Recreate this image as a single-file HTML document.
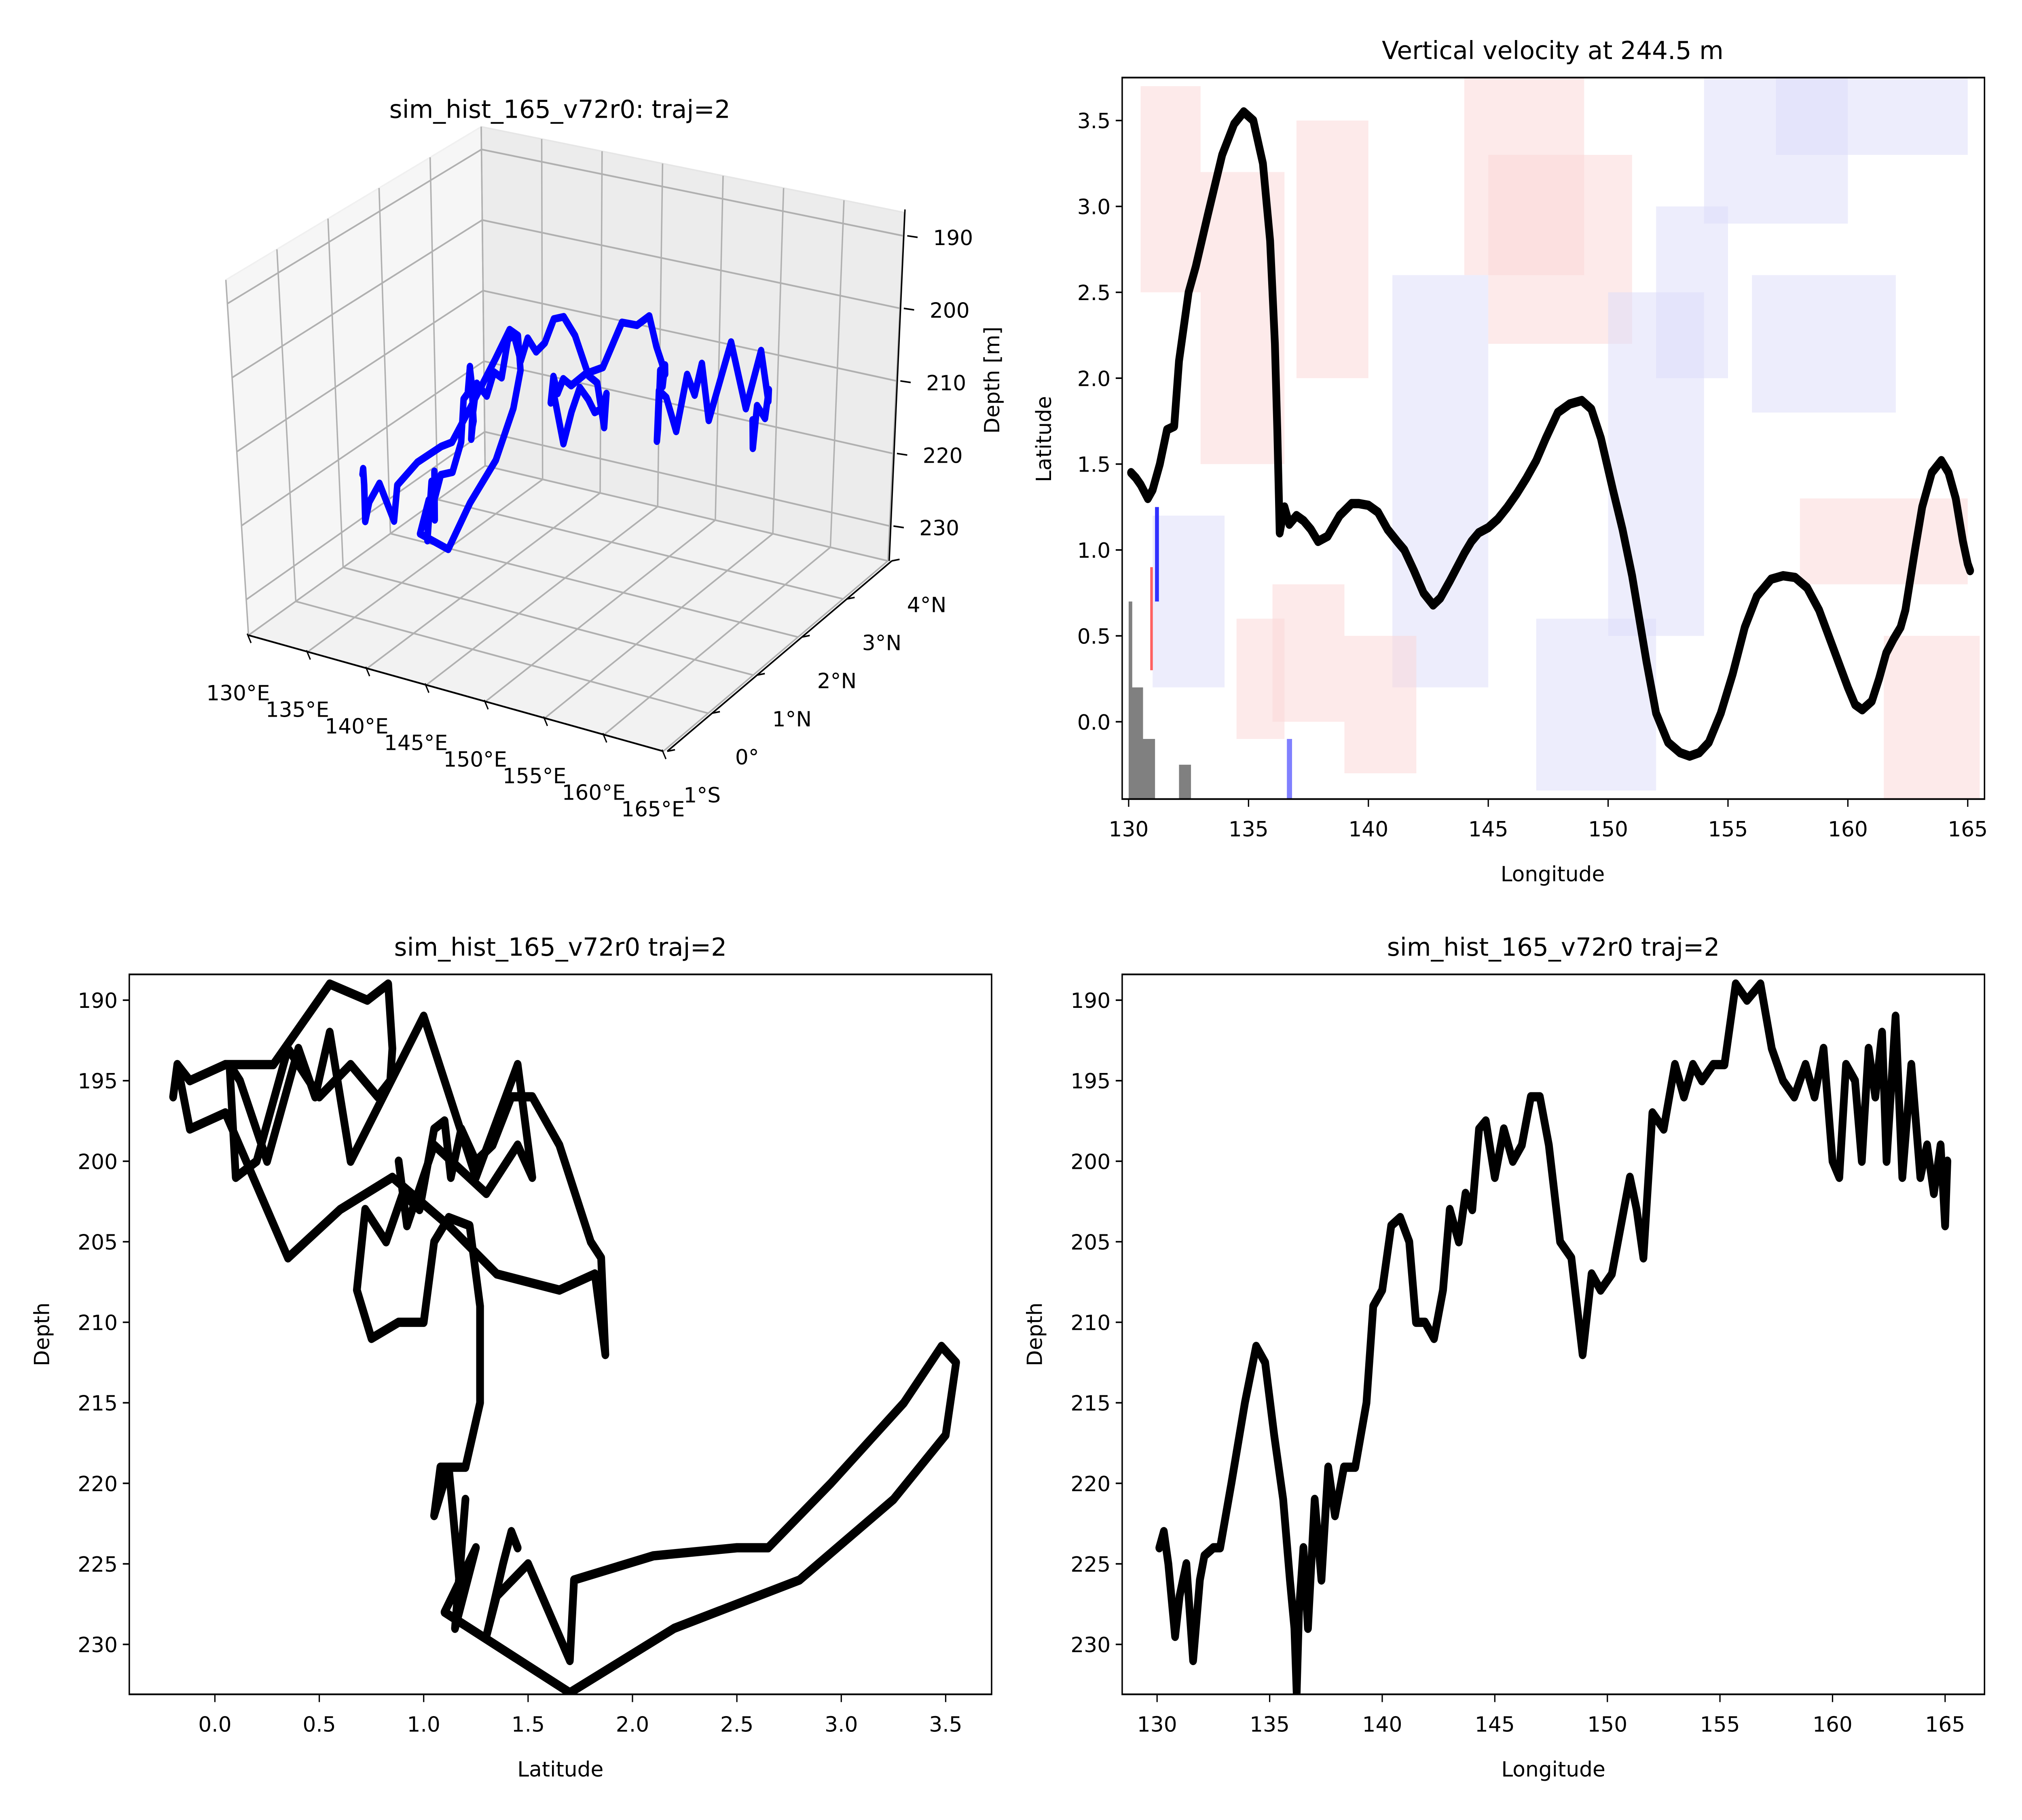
<!DOCTYPE html>
<html><head><meta charset="utf-8">
<style>
html,body{margin:0;padding:0;background:#fff;width:100%;height:100%;overflow:hidden;}
svg{display:block;position:fixed;left:0;top:0;width:100vw;height:100vh;}
text{font-family:"DejaVu Sans","Liberation Sans",sans-serif;fill:#000;}
</style></head>
<body>
<svg id="fig" xmlns="http://www.w3.org/2000/svg" viewBox="0 0 1564 1173" preserveAspectRatio="none">
<rect x="0" y="0" width="1564" height="1173" fill="#fff"/>
<defs>
<clipPath id="clipTR"><rect x="868" y="50" width="667" height="465"/></clipPath>
<clipPath id="clipBL"><rect x="100" y="628" width="667" height="464"/></clipPath>
<clipPath id="clipBR"><rect x="868" y="628" width="667" height="464"/></clipPath>
</defs>
<g id="p3d"></g>
<g id="ptr"></g>
<g id="pbl"></g>
<g id="pbr"></g>
</svg>
<script>
// ---- trajectory data (lon, lat, depth) ----
const trajLon = [130.1,130.3,130.5,130.8,131.0,131.3,131.6,131.9,132.1,132.5,132.8,133.3,133.9,134.4,134.8,135.2,135.6,135.9,136.1,136.2,136.3,136.5,136.7,137.0,137.3,137.6,137.9,138.3,138.8,139.3,139.6,140.0,140.4,140.8,141.2,141.5,141.9,142.3,142.7,143.0,143.4,143.7,144.0,144.3,144.6,145.0,145.4,145.8,146.2,146.6,147.0,147.4,147.9,148.4,148.9,149.3,149.7,150.2,150.6,151.0,151.3,151.6,152.0,152.5,153.0,153.4,153.8,154.2,154.7,155.2,155.7,156.2,156.8,157.3,157.8,158.3,158.8,159.2,159.6,160.0,160.3,160.6,161.0,161.3,161.6,161.9,162.2,162.4,162.8,163.1,163.5,163.9,164.2,164.5,164.8,165.0,165.1];
const trajLat = [1.45,1.42,1.38,1.30,1.35,1.5,1.7,1.72,2.1,2.5,2.65,2.95,3.3,3.48,3.55,3.5,3.25,2.8,2.2,1.7,1.1,1.25,1.15,1.2,1.17,1.12,1.05,1.08,1.2,1.27,1.27,1.26,1.22,1.12,1.05,1.0,0.88,0.75,0.68,0.72,0.82,0.9,0.98,1.05,1.1,1.13,1.18,1.25,1.33,1.42,1.52,1.65,1.8,1.85,1.87,1.82,1.65,1.35,1.12,0.85,0.6,0.35,0.05,-0.12,-0.18,-0.2,-0.18,-0.12,0.05,0.28,0.55,0.73,0.83,0.85,0.84,0.78,0.65,0.5,0.35,0.2,0.1,0.07,0.12,0.25,0.4,0.48,0.55,0.65,1.0,1.25,1.45,1.52,1.45,1.3,1.05,0.92,0.88];
const trajDepth = [224,223,225,229.5,227,225,231,226,224.5,224,224,220,215,211.5,212.5,217,221,226,229,233,228,224,229,221,226,219,222,219,219,215,209,208,204,203.5,205,210,210,211,208,203,205,202,203,198,197.5,201,198,200,199,196,196,199,205,206,212,207,208,207,204,201,203,206,197,198,194,196,194,195,194,194,189,190,189,193,195,196,194,196,193,200,201,194,195,200,193,196,192,200,191,201,194,201,199,202,199,204,200];

const lonTicksTR = [130,135,140,145,150,155,160,165];
const latTicksTR = [0.0,0.5,1.0,1.5,2.0,2.5,3.0,3.5];
const latTicksBL = [0.0,0.5,1.0,1.5,2.0,2.5,3.0,3.5];
const depthTicks = [190,195,200,205,210,215,220,225,230];
const lonTicksBR = [130,135,140,145,150,155,160,165];
const lon3dTicks = [130,135,140,145,150,155,160,165];
const lat3dTicks = [-1,0,1,2,3,4];
const lat3dLabels = ["1°S","0°","1°N","2°N","3°N","4°N"];
const depth3dTicks = [190,200,210,220,230];

// heatmap blobs: lon0, lon1, lat0, lat1, kind (1 red, -1 blue)
const blobLon0 = [130.5,133,137,144,145,147,154,157,161.5,141,150,136,134.5,156,158,131,139,152];
const blobLon1 = [133,136.5,140,149,151,152,160,165,165.5,145,154,139,136.5,162,165,134,142,155];
const blobLat0 = [2.5,1.5,2.0,2.6,2.2,-0.4,2.9,3.3,-0.45,0.2,0.5,0.0,-0.1,1.8,0.8,0.2,-0.3,2.0];
const blobLat1 = [3.7,3.2,3.5,3.75,3.3,0.6,3.75,3.75,0.5,2.6,2.5,0.8,0.6,2.6,1.3,1.2,0.5,3.0];
const blobKind = [1,1,1,1,1,-1,-1,-1,1,-1,-1,1,1,-1,1,-1,1,-1];

const NS="http://www.w3.org/2000/svg";
function mk(parent,tag,attrs){const e=document.createElementNS(NS,tag);for(const k in attrs)e.setAttribute(k,attrs[k]);parent.appendChild(e);return e;}
function txt(parent,x,y,s,size,anchor,extra){const t=mk(parent,'text',Object.assign({x:x,y:y,'font-size':size,'text-anchor':anchor||'middle'},extra||{}));t.textContent=s;return t;}

// ===== Top-right panel =====
const TR={x0:868,x1:1535,y0:50,y1:515,lon0:129.73,lon1:165.7,lat0:-0.45,lat1:3.75};
const trX=v=>TR.x0+(v-TR.lon0)/(TR.lon1-TR.lon0)*(TR.x1-TR.x0);
const trY=v=>TR.y1-(v-TR.lat0)/(TR.lat1-TR.lat0)*(TR.y1-TR.y0);
const ptr=document.getElementById('ptr');
const hm=mk(ptr,'g',{'clip-path':'url(#clipTR)'});


for(let i=0;i<blobLon0.length;i++){
  const r=mk(hm,'rect',{x:trX(blobLon0[i]),y:trY(blobLat1[i]),width:trX(blobLon1[i])-trX(blobLon0[i]),height:trY(blobLat0[i])-trY(blobLat1[i]),fill:blobKind[i]>0?'#fcd6d6':'#dcdcfa',opacity:0.5});
  
  
}
mk(hm,'rect',{x:trX(131.1),y:trY(1.25),width:3,height:trY(0.7)-trY(1.25),fill:'#3030ff'});
mk(hm,'rect',{x:trX(130.9),y:trY(0.9),width:2,height:trY(0.3)-trY(0.9),fill:'#ff6060'});
mk(hm,'rect',{x:trX(136.6),y:trY(-0.1),width:4,height:trY(-0.45)-trY(-0.1),fill:'#8080ff'});
const land=mk(hm,'polygon',{fill:'#808080',points:[[130,-0.45],[130,0.7],[130.15,0.7],[130.15,0.2],[130.6,0.2],[130.6,-0.1],[131.1,-0.1],[131.1,-0.45]].map(p=>trX(p[0])+','+trY(p[1])).join(' ')});


mk(hm,'rect',{x:trX(132.1),y:trY(-0.25),width:trX(132.6)-trX(132.1),height:trY(-0.45)-trY(-0.25),fill:'#808080'});
const trLine=mk(ptr,'polyline',{'clip-path':'url(#clipTR)',fill:'none',stroke:'#000','stroke-width':6,'stroke-linejoin':'round','stroke-linecap':'round',points:trajLon.map((v,i)=>trX(v)+','+trY(trajLat[i])).join(' ')});


mk(ptr,'rect',{x:TR.x0,y:TR.y0,width:TR.x1-TR.x0,height:TR.y1-TR.y0,fill:'none',stroke:'#000','stroke-width':1.1});
lonTicksTR.forEach(v=>{const x=trX(v);mk(ptr,'line',{x1:x,x2:x,y1:TR.y1,y2:TR.y1+5,stroke:'#000','stroke-width':1});const t=txt(ptr,x,TR.y1+24,String(v),13.5);});
latTicksTR.forEach(v=>{const y=trY(v);mk(ptr,'line',{x1:TR.x0-5,x2:TR.x0,y1:y,y2:y,stroke:'#000','stroke-width':1});const t=txt(ptr,TR.x0-9,y+5,v.toFixed(1),13.5,'end');});
let t;
t=txt(ptr,1201,38,'Vertical velocity at 244.5 m',16);
t=txt(ptr,1201,568,'Longitude',13.5);
t=txt(ptr,0,0,'Latitude',13.5,'middle',{transform:'translate(813,283) rotate(-90)'});

// ===== Bottom panels =====
const DY={y0:628,y1:1092,d0:188.4,d1:233.1};
const dY=v=>DY.y0+(v-DY.d0)/(DY.d1-DY.d0)*(DY.y1-DY.y0);
function depthPanel(g,x0,x1,v0,v1,xs,ticks,fmt,clip,xlab){
  const X=v=>x0+(v-v0)/(v1-v0)*(x1-x0);
  const ln=mk(g,'polyline',{'clip-path':'url(#'+clip+')',fill:'none',stroke:'#000','stroke-width':6,'stroke-linejoin':'round','stroke-linecap':'round',points:xs.map((v,i)=>X(v)+','+dY(trajDepth[i])).join(' ')});
  
  
  mk(g,'rect',{x:x0,y:DY.y0,width:x1-x0,height:DY.y1-DY.y0,fill:'none',stroke:'#000','stroke-width':1.1});
  ticks.forEach(v=>{const x=X(v);mk(g,'line',{x1:x,x2:x,y1:DY.y1,y2:DY.y1+5,stroke:'#000','stroke-width':1});const tt=txt(g,x,DY.y1+24,fmt(v),13.5);});
  depthTicks.forEach(v=>{const y=dY(v);mk(g,'line',{x1:x0-5,x2:x0,y1:y,y2:y,stroke:'#000','stroke-width':1});const tt=txt(g,x0-9,y+5,String(v),13.5,'end');});
  let a=txt(g,(x0+x1)/2,616,'sim_hist_165_v72r0 traj=2',16);
  a=txt(g,(x0+x1)/2,1145,xlab,13.5);
  a=txt(g,0,0,'Depth',13.5,'middle',{transform:'translate('+(x0-62)+',860) rotate(-90)'});
}
depthPanel(document.getElementById('pbl'),100,767,-0.41,3.72,trajLat,latTicksBL,v=>v.toFixed(1),'clipBL','Latitude');
depthPanel(document.getElementById('pbr'),868,1535,128.45,166.75,trajLon,lonTicksBR,v=>String(v),'clipBR','Longitude');

// ===== 3D panel =====
const p3=document.getElementById('p3d');
const LB=[192.2,409.4],FR=[513.1,484.2],RB=[686.8,361.5],BB=[375.2,300.2];
const vLB=[-17.5,-229],vFR=[-1.7,-235],vRB=[12.8,-224.5],vBB=[-3,-218.5];
function bil(a,b,c,d,u,v){return [0,1].map(k=>a[k]*(1-u)*(1-v)+b[k]*u*(1-v)+c[k]*u*v+d[k]*(1-u)*v);}
function P(lon,lat,dep){const u=(lon-130)/35,v=(lat+1)/5,w=(234.8-dep)/48;
  const f=bil(LB,FR,RB,BB,u,v),q=bil(vLB,vFR,vRB,vBB,u,v);return [f[0]+w*q[0],f[1]+w*q[1]];}
const pstr=a=>a.map(p=>p[0].toFixed(1)+','+p[1].toFixed(1)).join(' ');
const TOP=186.8,BOT=234.8;
let pn;
pn=mk(p3,'polygon',{points:pstr([P(130,-1,BOT),P(130,4,BOT),P(130,4,TOP),P(130,-1,TOP)]),fill:'#f6f6f6',stroke:'#f0f0f0','stroke-width':1});

pn=mk(p3,'polygon',{points:pstr([P(130,4,BOT),P(165,4,BOT),P(165,4,TOP),P(130,4,TOP)]),fill:'#ececec',stroke:'#e6e6e6','stroke-width':1});

pn=mk(p3,'polygon',{points:pstr([P(130,-1,BOT),P(165,-1,BOT),P(165,4,BOT),P(130,4,BOT)]),fill:'#f2f2f2',stroke:'#f0f0f0','stroke-width':1});

const gs={stroke:'#b0b0b0','stroke-width':1.1,fill:'none'};
lon3dTicks.forEach(l=>{mk(p3,'polyline',Object.assign({points:pstr([P(l,-1,BOT),P(l,4,BOT),P(l,4,TOP)])},gs));});
lat3dTicks.forEach(l=>{mk(p3,'polyline',Object.assign({points:pstr([P(165,l,BOT),P(130,l,BOT),P(130,l,TOP)])},gs));});
depth3dTicks.forEach(d=>{mk(p3,'polyline',Object.assign({points:pstr([P(130,-1,d),P(130,4,d),P(165,4,d)])},gs));});
mk(p3,'line',{x1:LB[0],y1:LB[1],x2:FR[0],y2:FR[1],stroke:'#000','stroke-width':1.1});
mk(p3,'line',{x1:FR[0]+3,y1:FR[1],x2:RB[0]+3,y2:RB[1],stroke:'#000','stroke-width':1.1});
mk(p3,'line',{x1:RB[0]+1,y1:RB[1],x2:700,y2:135,stroke:'#000','stroke-width':1.1});
lon3dTicks.forEach((l,i)=>{const a=P(l,-1,BOT);mk(p3,'line',{x1:a[0]-1,y1:a[1]-1,x2:a[0]+2,y2:a[1]+5,stroke:'#000','stroke-width':1});
  const tt=txt(p3,a[0]-8,a[1]+42,l+'°E',13.5);});
lat3dTicks.forEach((l,i)=>{const a=P(165,l,BOT);mk(p3,'line',{x1:a[0]+3,y1:a[1],x2:a[0]+9,y2:a[1]-1,stroke:'#000','stroke-width':1});
  const tt=txt(p3,a[0]+30,a[1]+33,lat3dLabels[i],13.5);});
depth3dTicks.forEach(d=>{const a=P(165,4,d);const x=a[0]+3;mk(p3,'line',{x1:x,y1:a[1],x2:x+8,y2:a[1]+1,stroke:'#000','stroke-width':1});
  const tt=txt(p3,x+20,a[1]+6,String(d),13.5,'start');});
t=txt(p3,0,0,'Depth [m]',13.5,'middle',{transform:'translate(773,245) rotate(-90)'});
t=txt(p3,433,76,'sim_hist_165_v72r0: traj=2',16);
const bl=mk(p3,'polyline',{fill:'none',stroke:'#0000ff','stroke-width':5,'stroke-linejoin':'round','stroke-linecap':'round',points:pstr(trajLon.map((v,i)=>P(v,trajLat[i],trajDepth[i])))});



// compensate text distortion when viewport aspect differs from 4:3
(function(){
  const w=window.innerWidth,h=window.innerHeight;
  if(!w||!h)return;
  const r=(w/h)/(1564/1173);
  if(Math.abs(r-1)<0.005)return;
  const k=1/r;
  document.querySelectorAll('#fig text').forEach(el=>{
    const tr=el.getAttribute('transform');
    if(tr){ // rotated text: scale along screen x which is its height
      el.setAttribute('transform',tr.replace(/translate\(([^,]+),([^)]+)\)/,(m,a,b)=>'translate('+a+','+b+') scale('+k+',1)').replace('scale('+k+',1) rotate(-90)','scale('+k+',1) rotate(-90)'));
    } else {
      const x=parseFloat(el.getAttribute('x'));
      el.setAttribute('transform','translate('+x+',0) scale('+k+',1) translate('+(-x)+',0)');
    }
  });
})();
</script>
</body></html>
